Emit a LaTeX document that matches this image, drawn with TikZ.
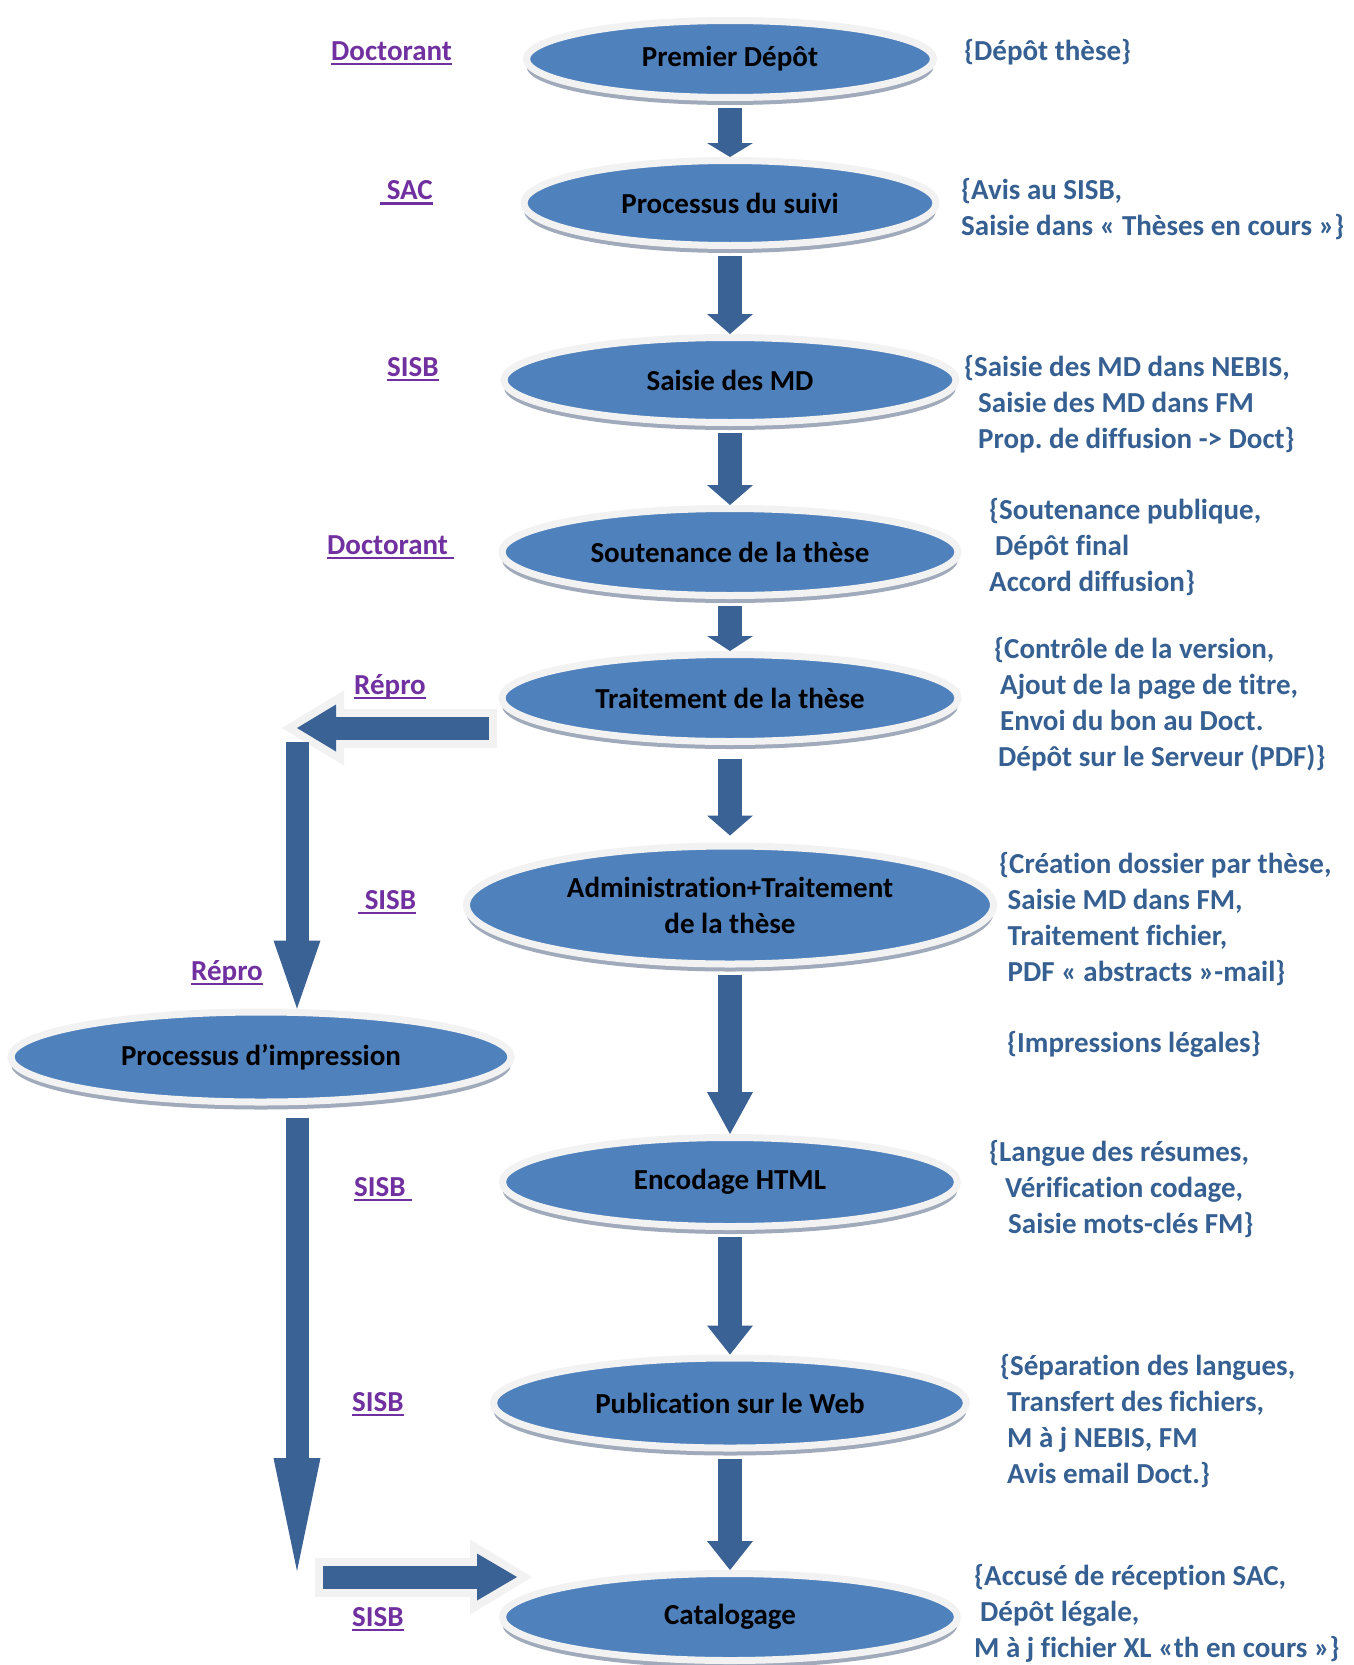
\documentclass[tikz,border=0pt]{standalone}
\usepackage{fontspec}
\setmainfont{Carlito}[Ligatures=NoCommon]
\usetikzlibrary{arrows.meta, positioning, shapes.geometric, shadows}
\frenchspacing

\definecolor{phasefill}{RGB}{79,129,189}
\definecolor{phaserim}{RGB}{242,242,242}
\definecolor{phaseshadow}{RGB}{160,170,186}
\definecolor{flowblue}{RGB}{59,98,148}
\definecolor{actorpurple}{RGB}{112,48,160}
\definecolor{noteblue}{RGB}{54,96,146}

\newcommand{\actorline}[1]{\setbox0\hbox{#1}\rlap{\rule[-4.8pt]{\wd0}{2.3pt}}\box0}

\tikzset{
    phase/.style={ellipse, fill=phasefill, draw=phaserim, line width=7pt,
        inner sep=0pt, align=center, text=black,
        font=\fontsize{29}{36}\selectfont\bfseries,
        drop shadow={shadow xshift=0pt, shadow yshift=-7.5pt, fill=phaseshadow, opacity=1}},
    actor/.style={anchor=base west, inner sep=0pt, text=actorpurple,
        font=\fontsize{29}{36}\selectfont\bfseries},
    % base of a note = baseline of its last line
    note/.style={anchor=base west, inner sep=0pt, align=left, text=noteblue,
        font=\fontsize{29}{36}\selectfont\bfseries},
    flow/.style={draw=flowblue, line width=24pt,
        -{Triangle[width=46pt, length=#1, line width=0pt 0 0]}, shorten <=7pt},
    sideflow/.style={draw=flowblue, line width=23pt,
        -{Triangle[width=47pt, length=#1, line width=0pt 0 0]}},
    glow/.style={draw=phaserim, line width=39pt,
        -{Triangle[width=75pt, length=62pt, line width=0pt 0 0]},
        shorten <=-8pt, shorten >=-15pt},
}

\begin{document}
\begin{tikzpicture}[
    x=1pt, y=-1pt,
    on grid,
]
    \path[use as bounding box, fill=white] (0,0) rectangle (1353,1665);

    % main chain
    \node[phase, minimum width=407pt, minimum height=77pt] (p1) at (730,59) {Premier Dépôt};
    \node[phase, minimum width=412pt, minimum height=85pt, below=144pt of p1] (p2) {Processus du suivi};
    \node[phase, minimum width=452pt, minimum height=85pt, below=177pt of p2] (p3) {Saisie des MD};
    \node[phase, minimum width=456pt, minimum height=87pt, below=172pt of p3] (p4) {Soutenance de la thèse};
    \node[phase, minimum width=456pt, minimum height=87pt, below=146pt of p4] (p5) {Traitement de la thèse};
    \node[phase, minimum width=527pt, minimum height=118pt, below=207pt of p5] (p6) {Administration+Traitement\\de la thèse};
    \node[phase, minimum width=455pt, minimum height=89pt, below=277pt of p6] (p8) {Encodage HTML};
    \node[phase, minimum width=473pt, minimum height=90pt, below=221pt of p8] (p9) {Publication sur le Web};
    \node[phase, minimum width=455pt, minimum height=87pt, below=214pt of p9] (p10) {Catalogage};
    % side branch
    \node[phase, minimum width=500pt, minimum height=90pt] (pimp) at (261,1057) {Processus d’impression};

    \coordinate (bend) at (297,728);
    \coordinate (corner) at (297,1577);
    \coordinate (cattip) at ([xshift=18pt, yshift=40pt]p10.west);

    \draw[flow=14pt] (p1.south) -- (p2.north);
    \draw[flow=20pt] (p2.south) -- (p3.north);
    \draw[flow=20pt] (p3.south) -- (p4.north);
    \draw[flow=15pt] (p4.south) -- (p5.north);
    \draw[flow=20pt] ([yshift=-7pt]p5.south) -- ([yshift=7pt]p6.north);
    \draw[flow=42pt] (p6.south) -- (p8.north);
    \draw[flow=29pt] (p8.south) -- (p9.north);
    \draw[flow=29pt] (p9.south) -- (p10.north);

    \draw[glow] ([xshift=-10pt, yshift=-30pt]p5.west) -- (bend);
    \draw[sideflow=39pt] ([xshift=-10pt, yshift=-30pt]p5.west) -- (bend);
    \draw[sideflow=68pt] ([yshift=-14pt]bend) -- (bend |- pimp.north);
    \draw[sideflow=113pt] ([yshift=-12pt]bend |- pimp.south) -- ([yshift=6pt]corner);
    \draw[glow] ([xshift=26pt]corner) -- (cattip);
    \draw[sideflow=40pt] ([xshift=26pt]corner) -- (cattip);

    % actors
    \node[actor] (a1)  at (331,60.5)  {\actorline{Doctorant}};
    \node[actor] (a2)  at (380,199.7) {\actorline{\ SAC}};
    \node[actor] (a3)  at (387,376)   {\actorline{SISB}};
    \node[actor] (a4)  at (327,554)   {\actorline{Doctorant\ }};
    \node[actor] (a5)  at (354,694.5) {\actorline{Répro}};
    \node[actor] (a6)  at (358,909)   {\actorline{\ SISB}};
    \node[actor] (a7)  at (191,980)   {\actorline{Répro}};
    \node[actor] (a8)  at (354,1196)  {\actorline{SISB\ }};
    \node[actor] (a9)  at (352,1411)  {\actorline{SISB}};
    \node[actor] (a10) at (352,1626)  {\actorline{SISB}};

    % notes
    \node[note] (n1)  at (964,60.5)  {\{Dépôt thèse\}};
    \node[note] (n2)  at (961,235.7) {\{Avis au SISB,\\Saisie dans « Thèses en cours »\}};
    \node[note] (n3)  at (964,448)   {\{Saisie des MD dans NEBIS,\\\hspace*{14pt}Saisie des MD dans FM\\\hspace*{14pt}Prop. de diffusion -> Doct\}};
    \node[note] (n4)  at (989,591)   {\{Soutenance publique,\\\hspace*{6pt}Dépôt final\\Accord diffusion\}};
    \node[note] (n5)  at (994,766)   {\{Contrôle de la version,\\\hspace*{6pt}Ajout de la page de titre,\\\hspace*{6pt}Envoi du bon au Doct.\\\hspace*{4pt}Dépôt sur le Serveur (PDF)\}};
    \node[note] (n6)  at (999,981)   {\{Création dossier par thèse,\\\hspace*{8.5pt}Saisie MD dans FM,\\\hspace*{8.5pt}Traitement fichier,\\\hspace*{8.5pt}PDF « abstracts »-mail\}};
    \node[note] (n7)  at (1007,1052) {\{Impressions légales\}};
    \node[note] (n8)  at (989,1233)  {\{Langue des résumes,\\\hspace*{16pt}Vérification codage,\\\hspace*{19pt}Saisie mots-clés FM\}};
    \node[note] (n9)  at (1000,1483) {\{Séparation des langues,\\\hspace*{7pt}Transfert des fichiers,\\\hspace*{7pt}M à j NEBIS, FM\\\hspace*{7pt}Avis email Doct.\}};
    \node[note] (n10) at (974,1657)  {\{Accusé de réception SAC,\\\hspace*{6pt}Dépôt légale,\\M à j fichier XL «th en cours »\}};
\end{tikzpicture}
\end{document}
